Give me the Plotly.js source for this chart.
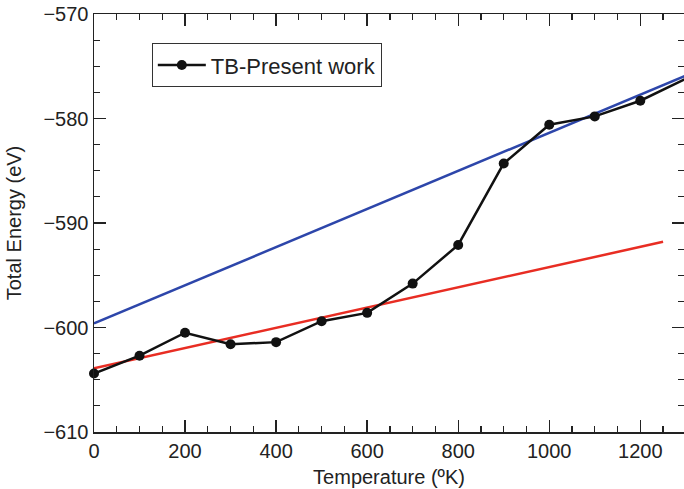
<!DOCTYPE html>
<html>
<head>
<meta charset="utf-8">
<script src="https://cdn.plot.ly/plotly-3.0.1.min.js"></script>
<style>html,body{margin:0;padding:0;background:#fff;}#chart{width:684px;height:489px;}</style>
</head>
<body>
<div id="chart"></div>
<script>
// Data
const temperature = [0, 100, 200, 300, 400, 500, 600, 700, 800, 900, 1000, 1100, 1200, 1300];
const totalEnergy = [-604.4, -602.7, -600.5, -601.6, -601.4, -599.4, -598.6, -595.8, -592.1, -584.3, -580.6, -579.8, -578.3, -576.2];
const blueFitX = [0, 1300];
const blueFitY = [-599.6, -575.9];
const redFitX = [0, 1250];
const redFitY = [-603.9, -591.8];
const seriesName = 'TB-Present work';

const font = 'Liberation Sans, Arial, Helvetica, sans-serif';

const traces = [
  {x: blueFitX, y: blueFitY, mode: 'lines', line: {color: 'rgb(45,70,170)', width: 2.5}, showlegend: false, hoverinfo: 'skip'},
  {x: redFitX, y: redFitY, mode: 'lines', line: {color: 'rgb(232,45,35)', width: 2.5}, showlegend: false, hoverinfo: 'skip'},
  {x: temperature, y: totalEnergy, mode: 'lines+markers', name: seriesName,
   line: {color: '#111', width: 2.5}, marker: {color: '#111', size: 10}, cliponaxis: false}
];

const axisCommon = {
  showgrid: false, zeroline: false, showline: true, linecolor: '#222', linewidth: 1.5,
  ticks: 'inside', ticklen: 12, tickwidth: 1.3, tickcolor: '#222', mirror: 'allticks',
  tickfont: {family: font, size: 20, color: '#222'}
};

const layout = {
  width: 684, height: 489,
  margin: {l: 94, r: 0, t: 14, b: 57},
  paper_bgcolor: '#fff', plot_bgcolor: '#fff',
  font: {family: font, color: '#222'},
  xaxis: Object.assign({}, axisCommon, {
    range: [0, 1296], tick0: 0, dtick: 200,
    minor: {dtick: 50, ticks: 'inside', ticklen: 6, tickcolor: '#222', tickwidth: 1.2},
    title: {text: 'Temperature (ºK)', font: {family: font, size: 20, color: '#222'}, standoff: 9}
  }),
  yaxis: Object.assign({}, axisCommon, {
    range: [-610, -570], tick0: -610, dtick: 10,
    minor: {dtick: 2.5, ticks: 'inside', ticklen: 6, tickcolor: '#222', tickwidth: 1.2},
    title: {text: 'Total Energy (eV)', font: {family: font, size: 20, color: '#222'}, standoff: 16}
  }),
  showlegend: true,
  legend: {x: 0.098, y: 0.93, xanchor: 'left', yanchor: 'top', bgcolor: '#fff',
    bordercolor: '#333', borderwidth: 1, itemwidth: 48,
    font: {family: font, size: 22, color: '#222'}}
};

Plotly.newPlot('chart', traces, layout, {displayModeBar: false, staticPlot: true});
</script>
</body>
</html>
